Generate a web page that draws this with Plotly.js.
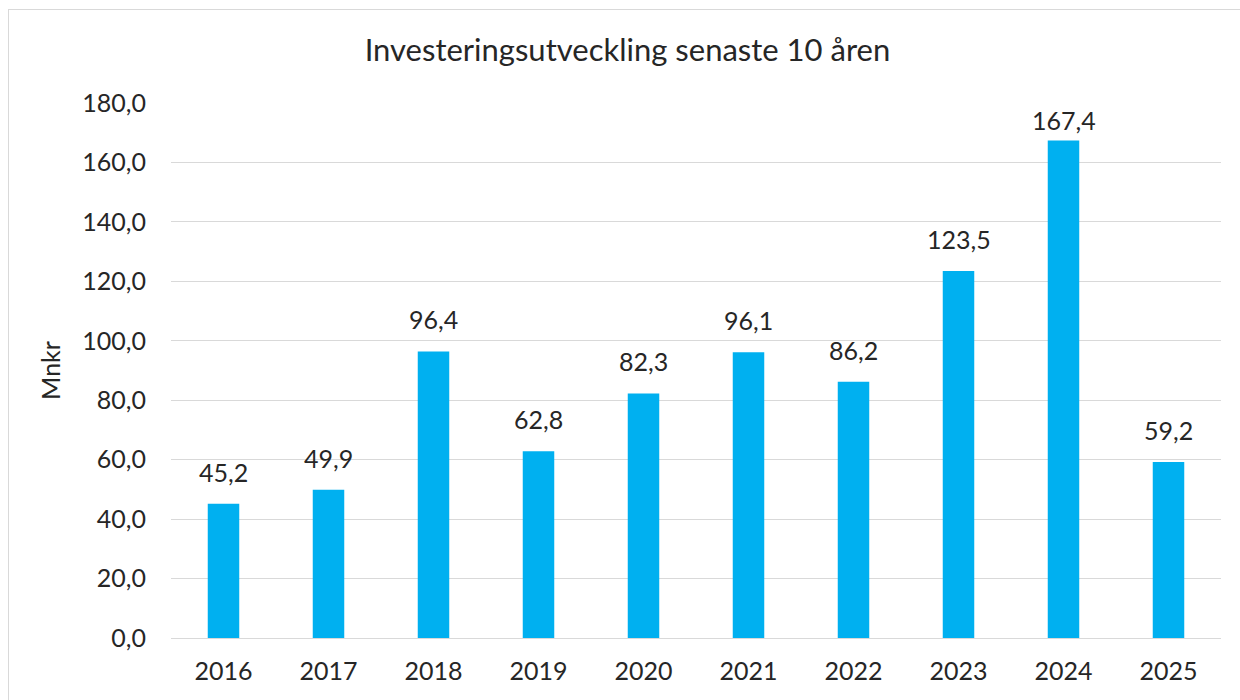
<!DOCTYPE html>
<html><head><meta charset="utf-8">
<script src="https://cdn.plot.ly/plotly-3.0.1.min.js"></script>
<style>
html,body{margin:0;padding:0;background:#fff;}
#wrap{position:relative;width:1240px;height:700px;overflow:hidden;}
#chart{width:1240px;height:700px;}
#border{position:absolute;left:8px;top:9px;width:1240px;height:700px;border:1px solid #d9d9d9;pointer-events:none;}
</style></head>
<body>
<div id="wrap"><div id="chart"></div><div id="border"></div></div>
<script>
const years = ['2016','2017','2018','2019','2020','2021','2022','2023','2024','2025'];
const values = [45.2, 49.9, 96.4, 62.8, 82.3, 96.1, 86.2, 123.5, 167.4, 59.2];
const yTicks = [0,20,40,60,80,100,120,140,160,180];

const font = 'Lato, "Open Sans", sans-serif';
const txtColor = '#262626';
const yMax = 180, plotH = 700 - 103 - 62;
// labels sit ~15px above the bar, but are pulled down when they would leave the plot top
const labels = years.map((yr, i) => {
  const distTop = (yMax - values[i]) * plotH / yMax;
  return {
    x: i, y: values[i], xref: 'x', yref: 'y',
    text: values[i].toFixed(1).replace('.', ','),
    showarrow: false, yanchor: 'bottom', yshift: Math.max(3, Math.min(15, distTop - 34.5)),
    font: {family: font, size: 25, color: txtColor}
  };
});

Plotly.newPlot('chart', [{
  type: 'bar',
  x: years,
  y: values,
  marker: {color: '#00B0F0'},
  width: 0.3,
  hoverinfo: 'skip'
}], {
  width: 1240, height: 700,
  margin: {l: 171, r: 19, t: 103, b: 62},
  paper_bgcolor: '#fff', plot_bgcolor: '#fff',
  title: {text: 'Investeringsutveckling senaste 10 åren', x: 0.506, xanchor: 'center', y: 0.928, yanchor: 'middle',
          font: {family: font, size: 31, color: txtColor}},
  xaxis: {type: 'category', range: [-0.5, years.length - 0.5], tickfont: {family: font, size: 25, color: txtColor}, showgrid: false,
          showline: false, ticks: '', ticklabelstandoff: 16},
  yaxis: {range: [0, yMax], tickvals: yTicks, ticktext: yTicks.map(v => v.toFixed(1).replace('.', ',')),
          showgrid: true, gridcolor: '#d9d9d9', gridwidth: 1,
          zeroline: true, zerolinecolor: '#d9d9d9', zerolinewidth: 1, showline: false, ticks: '',
          tickfont: {family: font, size: 25, color: txtColor}, ticklabelstandoff: 24,
          title: {text: 'Mnkr', font: {family: font, size: 25, color: txtColor}, standoff: 14}},
  annotations: labels,
  showlegend: false
}, {displayModeBar: false, staticPlot: true});
</script>
</body></html>
